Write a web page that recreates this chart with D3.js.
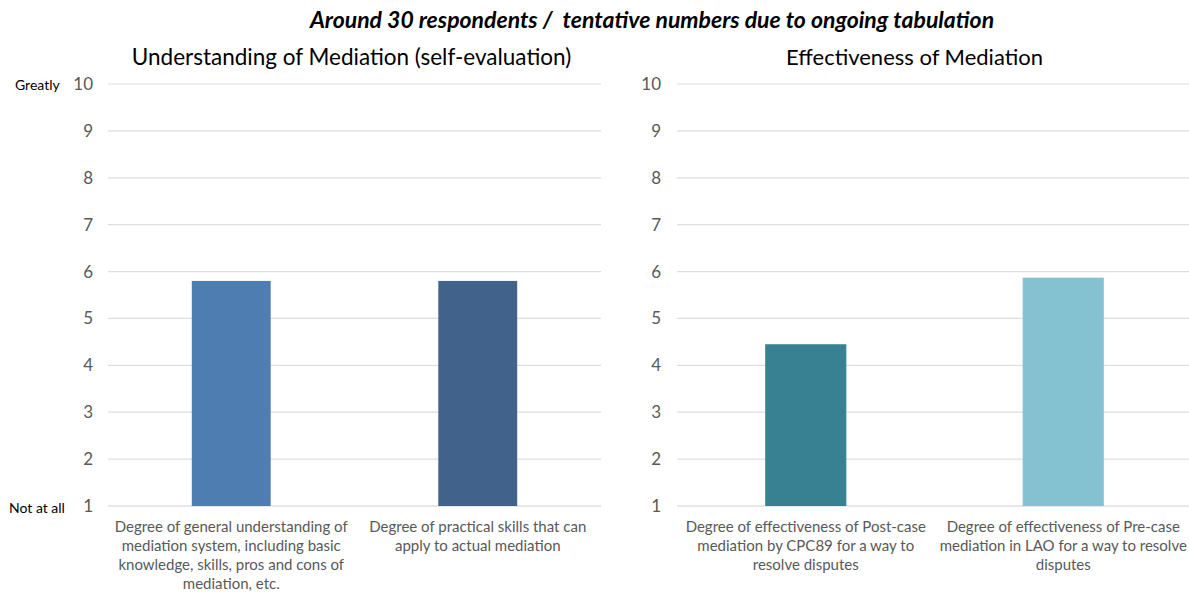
<!DOCTYPE html>
<html>
<head>
<meta charset="utf-8">
<script src="https://cdn.jsdelivr.net/npm/d3@7"></script>
<style>
  body { margin: 0; background: #fff; }
  text { font-family: Lato, "Open Sans", sans-serif; }
</style>
</head>
<body>
<div id="vis"></div>
<script>
var titleText = 'Around 30 respondents /  tentative numbers due to ongoing tabulation';

var leftTitle = 'Understanding of Mediation (self-evaluation)';
var leftCategories = [
  ['Degree of general understanding of', 'mediation system, including basic', 'knowledge, skills, pros and cons of', 'mediation, etc.'],
  ['Degree of practical skills that can', 'apply to actual mediation']
];
var leftValues = [5.8, 5.8];
var leftColors = ['#4e7db1', '#41638b'];

var rightTitle = 'Effectiveness of Mediation';
var rightCategories = [
  ['Degree of effectiveness of Post-case', 'mediation by CPC89 for a way to', 'resolve disputes'],
  ['Degree of effectiveness of Pre-case', 'mediation in LAO for a way to resolve', 'disputes']
];
var rightValues = [4.45, 5.87];
var rightColors = ['#378193', '#84c1d1'];

var yTicks = [1, 2, 3, 4, 5, 6, 7, 8, 9, 10];

var width = 1189, height = 592;

var svg = d3.select('#vis').append('svg')
  .attr('width', width)
  .attr('height', height);

svg.append('text')
  .attr('x', 652)
  .attr('y', 28)
  .attr('text-anchor', 'middle')
  .style('font-size', '23px')
  .style('font-weight', 'bold')
  .style('font-style', 'italic')
  .style('white-space', 'pre')
  .attr('fill', '#000')
  .text(titleText);

var yScale = d3.scaleLinear().domain([1, 10]).range([506, 84]);

function drawPanel(cfg) {
  var g = svg.append('g');

  var x = d3.scaleBand()
    .domain(d3.range(cfg.values.length))
    .range([cfg.left, cfg.right])
    .paddingInner(0)
    .paddingOuter(0);

  var barW = x.bandwidth() * cfg.barFrac;

  g.append('text')
    .attr('x', (cfg.left + cfg.right) / 2 + cfg.titleShift)
    .attr('y', 65)
    .attr('text-anchor', 'middle')
    .style('font-size', cfg.titleSize)
    .attr('fill', '#000')
    .text(cfg.title);

  /* gridlines */
  g.selectAll('.grid')
    .data(yTicks)
    .enter().append('line')
    .attr('x1', cfg.left)
    .attr('x2', cfg.right)
    .attr('y1', function(d) { return yScale(d); })
    .attr('y2', function(d) { return yScale(d); })
    .attr('stroke', function(d) { return d === 1 ? '#d0d0d0' : '#dedede'; })
    .attr('stroke-width', 1.2);

  /* y axis labels, no axis line */
  var yAxis = d3.axisLeft(yScale).tickValues(yTicks).tickSize(0).tickPadding(0);
  var ax = g.append('g')
    .attr('transform', 'translate(' + cfg.tickX + ',0)')
    .call(yAxis);
  ax.select('.domain').remove();
  ax.selectAll('text')
    .style('font-size', '17px')
    .style('font-family', 'Lato, "Open Sans", sans-serif')
    .attr('fill', '#595959');

  /* bars */
  g.selectAll('.bar')
    .data(cfg.values)
    .enter().append('rect')
    .attr('x', function(d, i) { return x(i) + (x.bandwidth() - barW) / 2; })
    .attr('y', function(d) { return yScale(d); })
    .attr('width', barW)
    .attr('height', function(d) { return yScale(1) - yScale(d); })
    .attr('fill', function(d, i) { return cfg.colors[i]; });

  /* category labels */
  cfg.categories.forEach(function(lines, i) {
    var t = g.append('text')
      .attr('text-anchor', 'middle')
      .style('font-size', '15px')
      .attr('fill', '#595959');
    lines.forEach(function(line, j) {
      t.append('tspan')
        .attr('x', x(i) + x.bandwidth() / 2)
        .attr('y', 532 + j * 19)
        .text(line);
    });
  });
}

drawPanel({
  left: 108, right: 601, tickX: 93, barFrac: 0.32, titleShift: -3, titleSize: '22.5px',
  title: leftTitle, values: leftValues, colors: leftColors, categories: leftCategories
});

drawPanel({
  left: 677, right: 1192, tickX: 661, barFrac: 0.315, titleShift: -20, titleSize: '22px',
  title: rightTitle, values: rightValues, colors: rightColors, categories: rightCategories
});

/* left-side scale anchors */
svg.append('text')
  .attr('x', 15).attr('y', 90)
  .style('font-size', '14px').attr('fill', '#000')
  .text('Greatly');
svg.append('text')
  .attr('x', 9).attr('y', 513)
  .style('font-size', '14px').attr('fill', '#000')
  .text('Not at all');
</script>
</body>
</html>
